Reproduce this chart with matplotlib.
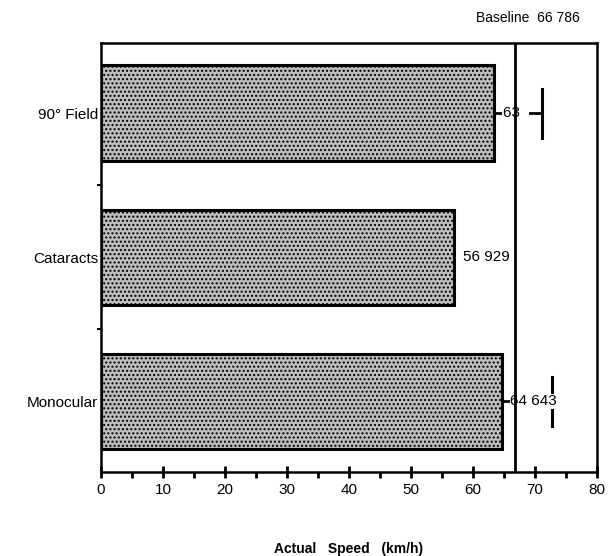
import matplotlib

matplotlib.use("Agg")
import matplotlib.pyplot as plt
import numpy as np

plt.rcParams["font.family"] = ["Liberation Sans", "DejaVu Sans"]
plt.rcParams["hatch.color"] = "#404040"
plt.rcParams["hatch.linewidth"] = 1.0

# data (bottom to top)
conditions = ["Monocular", "Cataracts", "90\u00b0 Field"]
speeds = [64.643, 56.929, 63.4]
value_labels = ["64 643", "56 929", "63  "]
err_cap = [72.7, np.nan, 71.2]   # end of the +SD whisker
baseline = 66.786
baseline_label = "Baseline  66 786"
x_ticks = [0, 10, 20, 30, 40, 50, 60, 70, 80]

fig = plt.figure(figsize=(6.15, 5.56), dpi=100)
ax = fig.add_axes([0.1642, 0.151, 0.8065, 0.7717])

y = np.arange(len(conditions))
ax.barh(y, speeds, height=0.66, color="#bdbdbd", edgecolor="black",
        linewidth=2.2, hatch="....", zorder=2)

# whiskers with caps
for yi, s, c in zip(y, speeds, err_cap):
    if np.isnan(c):
        continue
    ax.plot([s, c], [yi, yi], color="black", lw=2, zorder=3)
    ax.plot([c, c], [yi - 0.17, yi + 0.17], color="black", lw=2.2, zorder=3)

# value labels over the whiskers
for yi, s, lab in zip(y, speeds, value_labels):
    ax.text(s + 1.4, yi, lab, va="center", ha="left", fontsize=11,
            zorder=4, bbox=dict(facecolor="white", edgecolor="none", pad=0.5))

ax.axvline(baseline, color="black", lw=2, zorder=5)
fig.text(0.943, 0.968, baseline_label, ha="right", va="center", fontsize=10)

ax.set_xlim(0, 80)
ax.set_ylim(-0.49, 2.486)
ax.set_xticks(x_ticks)
ax.set_xticks(np.arange(5, 80, 10), minor=True)
ax.set_xticklabels([str(t) for t in x_ticks], fontsize=11)
ax.set_yticks(y)
ax.set_yticklabels(conditions, fontsize=11)
ax.set_yticks([0.5, 1.5], minor=True)
ax.tick_params(axis="x", which="major", direction="inout", length=8, width=2, pad=4)
ax.tick_params(axis="x", which="minor", direction="out", length=4, width=2)
ax.tick_params(axis="y", which="major", direction="in", length=3, width=1.5, pad=2)
ax.tick_params(axis="y", which="minor", direction="out", length=3, width=1.5)
for sp in ax.spines.values():
    sp.set_linewidth(1.8)

ax.set_xlabel("Actual   Speed   (km/h)", fontsize=10, fontweight="bold", labelpad=32)

plt.savefig("out.png", dpi=100)
plt.close()
